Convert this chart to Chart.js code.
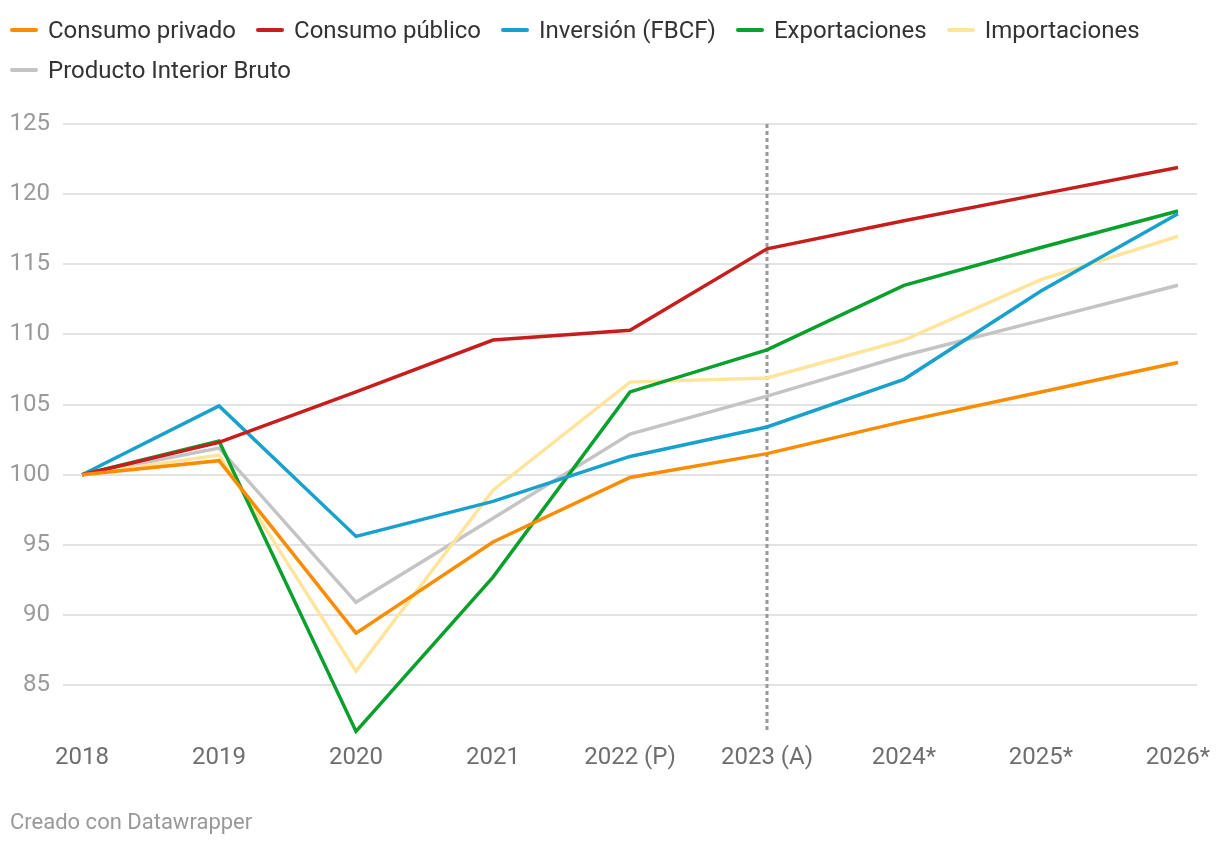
<!DOCTYPE html>
<html>
<head>
<meta charset="utf-8">
<script src="https://cdn.jsdelivr.net/npm/chart.js@4"></script>
<style>
  body { margin: 0; background: #fff; font-family: Roboto, sans-serif; }
  #wrap { position: relative; width: 1220px; height: 846px; }
  #lineChart { position: absolute; left: 0; top: 0; }
  #legend { position: absolute; left: 10px; top: 10px; width: 1200px; display: flex; flex-wrap: wrap; }
  .item { display: flex; align-items: center; height: 40px; margin-right: 20px; font-size: 24px; color: #333; }
  .swatch { width: 28px; height: 4px; border-radius: 2px; margin-right: 10px; }
  #note { position: absolute; left: 10px; top: 809px; font-size: 22px; color: #999; }
</style>
</head>
<body>
<div id="wrap">
  <canvas id="lineChart" width="1220" height="846"></canvas>
  <div id="legend"></div>
  <div id="note">Creado con Datawrapper</div>
</div>
<script>
const years = ['2018', '2019', '2020', '2021', '2022 (P)', '2023 (A)', '2024*', '2025*', '2026*'];
const consumoPrivado = [100, 101.0, 88.7, 95.2, 99.8, 101.5, 103.8, 105.9, 108.0];
const consumoPublico = [100, 102.3, 105.9, 109.6, 110.3, 116.1, 118.1, 120.0, 121.9];
const inversion = [100, 104.9, 95.6, 98.1, 101.3, 103.4, 106.8, 113.1, 118.6];
const exportaciones = [100, 102.4, 81.7, 92.7, 105.9, 108.9, 113.5, 116.2, 118.8];
const importaciones = [100, 101.4, 86.0, 98.9, 106.6, 106.9, 109.6, 113.9, 117.0];
const pib = [100, 101.9, 90.9, 96.9, 102.9, 105.6, 108.5, 111.0, 113.5];
const yTicks = [85, 90, 95, 100, 105, 110, 115, 120, 125];
const markerYear = '2023 (A)';

function pts(arr) {
    return arr.map((v, i) => ({ x: i, y: v }));
}

function ds(label, arr, color) {
    return {
        label: label,
        data: pts(arr),
        borderColor: color,
        backgroundColor: color,
        borderWidth: 3.5,
        pointRadius: 0,
        tension: 0
    };
}

// dotted line at the forecast split
const markerLine = {
    id: 'markerLine',
    beforeDatasetsDraw(chart) {
        const x = chart.scales.x.getPixelForValue(years.indexOf(markerYear));
        const area = chart.chartArea;
        const ctx = chart.ctx;
        ctx.save();
        ctx.strokeStyle = '#999';
        ctx.lineWidth = 3;
        ctx.setLineDash([4, 3]);
        ctx.beginPath();
        ctx.moveTo(x, area.top);
        ctx.lineTo(x, area.bottom - 3);
        ctx.stroke();
        ctx.restore();
    }
};

const CHART = document.getElementById('lineChart');
let lineChart = new Chart(CHART, {
    type: 'line',
    data: {
        datasets: [
            ds('Consumo privado', consumoPrivado, '#fa8c00'),
            ds('Consumo público', consumoPublico, '#c71e1d'),
            ds('Inversión (FBCF)', inversion, '#18a1cd'),
            ds('Exportaciones', exportaciones, '#09a02c'),
            ds('Importaciones', importaciones, '#ffe59c'),
            ds('Producto Interior Bruto', pib, '#c4c4c4')
        ]
    },
    options: {
        responsive: false,
        animation: false,
        layout: { padding: { left: 10, right: 23, top: 124, bottom: 73 } },
        plugins: {
            tooltip: { enabled: false },
            legend: { display: false }
        },
        scales: {
            x: {
                type: 'linear',
                min: -0.139,
                max: 8.139,
                grid: { display: false },
                border: { display: false },
                afterBuildTicks: s => { s.ticks = years.map((y, i) => ({ value: i })); },
                ticks: {
                    padding: 1,
                    maxRotation: 0,
                    color: '#6e6e6e',
                    font: { family: 'Roboto', size: 24 },
                    callback: v => years[v]
                }
            },
            y: {
                min: 81.5,
                max: 125,
                border: { display: false },
                grid: { color: '#e3e3e3', lineWidth: 2, drawTicks: false },
                afterBuildTicks: s => { s.ticks = yTicks.map(v => ({ value: v })); },
                afterFit: s => { s.width = 53; },
                ticks: {
                    padding: 13,
                    color: '#9a9a9a',
                    font: { family: 'Roboto', size: 24 }
                }
            }
        }
    },
    plugins: [markerLine]
});

// legend built from the datasets
const legendBox = document.getElementById('legend');
lineChart.data.datasets.forEach(d => {
    const item = document.createElement('div');
    item.className = 'item';
    const sw = document.createElement('span');
    sw.className = 'swatch';
    sw.style.background = d.borderColor;
    item.appendChild(sw);
    item.appendChild(document.createTextNode(d.label));
    legendBox.appendChild(item);
});
</script>
</body>
</html>
